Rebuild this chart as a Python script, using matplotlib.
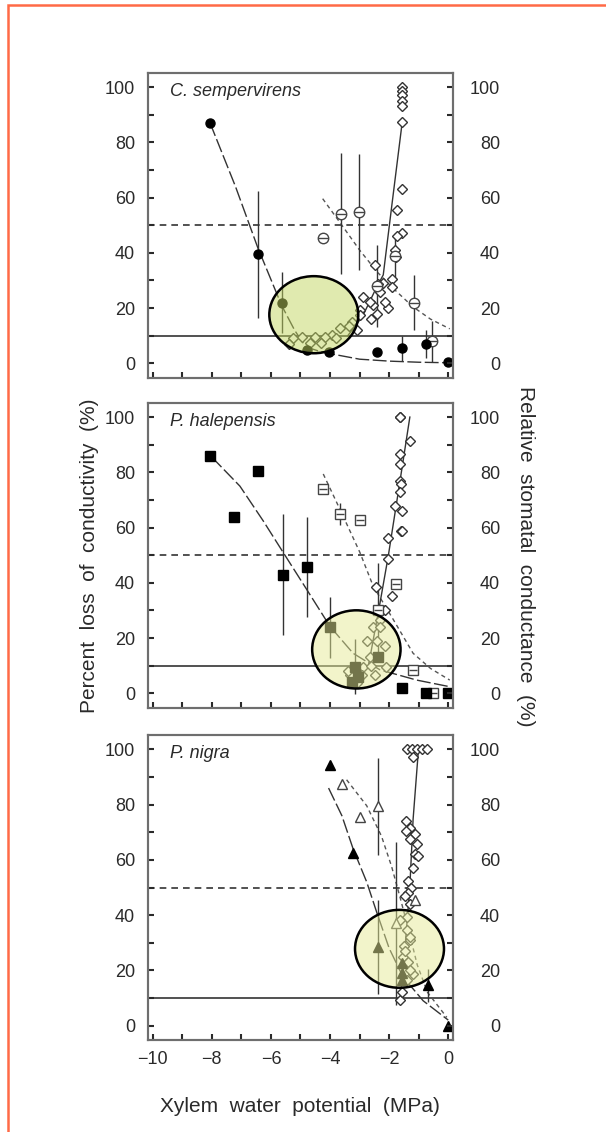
import matplotlib
matplotlib.use("Agg")
import matplotlib.pyplot as plt
from matplotlib.patches import Ellipse, Rectangle
from matplotlib.ticker import MultipleLocator, FixedLocator

plt.rcParams['font.family'] = ['Liberation Sans', 'DejaVu Sans']

# ---------------- data ----------------
panel_names = ["C. sempervirens", "P. halepensis", "P. nigra"]

# Panel 1 : C. sempervirens
c_plc_x = [-8.06, -6.45, -5.64, -4.79, -4.03, -2.40, -1.58, -0.77, 0.0]
c_plc_y = [87, 39.5, 21.9, 4.8, 4.2, 4.0, 5.4, 6.9, 0.4]
c_plc_err = [0, 23, 11, 0, 0, 0, 4.5, 5, 0]
c_gs_x = [-4.25, -3.62, -3.01, -2.42, -1.80, -1.17, -0.54]
c_gs_y = [45.4, 54.2, 54.8, 28.0, 39.0, 21.9, 8.0]
c_gs_err = [0, 22, 21, 15, 8, 10, 7.5]
c_dia_x = [-1.58, -1.58, -1.58, -1.58, -1.58, -1.56, -1.55, -1.75, -1.58, -1.75,
           -1.81, -1.78, -2.48, -1.92, -1.92, -2.20, -2.03, -2.14, -2.42, -2.55,
           -2.65, -2.88, -2.99, -2.99, -3.27, -3.35, -3.67, -3.95, -4.17, -4.51,
           -4.68, -4.96, -5.24, -5.40, -2.39, -2.30, -2.60, -3.10, -4.30, -3.80]
c_dia_y = [100, 98.5, 97, 95, 93, 87.3, 63, 55.4, 47, 46,
           41, 38.5, 35.5, 30.7, 27.7, 28.9, 19.9, 22.3, 18, 21,
           22.3, 24, 19.3, 17.5, 15, 13.5, 12.7, 10.2, 9.6, 9.6,
           7.2, 9.6, 9, 7, 28.7, 26, 16, 12, 7.5, 9]
c_plc_fit_x = [-8.06, -7.2, -6.45, -5.64, -5.2, -4.83, -4.4, -4.0, -3.0, -2.0, -1.0, 0.05]
c_plc_fit_y = [87, 64, 42, 21, 12, 6, 4.5, 3.5, 1.5, 0.8, 0.4, 0.2]
c_gs_fit_x = [-4.25, -3.6, -3.0, -2.4, -1.8, -1.2, -0.6, 0.05]
c_gs_fit_y = [59.6, 50, 41, 33, 26.5, 20.5, 16, 12.5]
c_dia_fit_x = [-3.4, -2.9, -2.45, -2.2, -1.9, -1.55]
c_dia_fit_y = [10, 17, 27, 32, 58, 88]

# Panel 2 : P. halepensis
h_plc_x = [-8.06, -7.24, -6.43, -5.60, -4.79, -4.00, -3.16, -3.05, -3.25, -2.37, -1.58, -0.76, 0.0]
h_plc_y = [86, 63.9, 80.6, 43, 45.7, 23.9, 9.7, 6, 4, 13.3, 1.8, 0.2, 0]
h_plc_err = [0, 0, 0, 22, 18, 11, 10, 0, 0, 0, 0, 0, 0]
h_gs_x = [-4.23, -3.67, -2.99, -2.39, -1.77, -1.19, -0.51]
h_gs_y = [73.9, 64.8, 62.8, 30.3, 39.7, 8.5, 0]
h_gs_err = [0, 4, 0, 17, 0, 0, 0]
h_dia_x = [-1.64, -1.62, -1.28, -1.64, -1.64, -1.62, -1.60, -1.64, -1.81, -1.58,
           -1.60, -1.58, -2.05, -2.03, -2.45, -1.92, -2.14, -2.31, -2.54, -2.31,
           -2.76, -2.42, -2.14, -2.65, -2.88, -2.93, -2.48, -3.33, -3.40, -3.10,
           -2.09, -2.60]
h_dia_y = [100, 100, 91.5, 86.7, 83, 77, 75.7, 73, 67.9, 66,
           58.8, 58.8, 56.4, 48.5, 38.5, 35.4, 30.3, 26.7, 24, 24,
           18.8, 18.8, 17.2, 13.3, 9.7, 6.7, 6.7, 6.7, 8, 3.6,
           9.7, 10]
h_plc_fit_x = [-8.0, -7.05, -6.26, -5.58, -4.79, -4.0, -3.22, -2.31, -1.07, 0.05]
h_plc_fit_y = [85.5, 75, 62.4, 50.9, 37.6, 24.2, 14.5, 8.5, 4.8, 2.4]
h_gs_fit_x = [-4.23, -3.67, -2.99, -2.54, -1.86, -1.19, -0.6, 0.05]
h_gs_fit_y = [79.4, 66.7, 51, 38.8, 26.7, 14.5, 9, 4.8]
h_dia_fit_x = [-2.7, -2.31, -2.03, -1.66, -1.3]
h_dia_fit_y = [10, 32.7, 49.7, 75, 100]

# Panel 3 : P. nigra
n_plc_x = [-4.0, -3.22, -2.37, -1.58, -1.58, -1.55, -0.68, 0.0]
n_plc_y = [94.4, 62.6, 28.5, 22.6, 16.4, 19, 14.6, 0]
n_plc_err = [0, 0, 17, 0, 0, 0, 6, 0]
n_gs_x = [-3.61, -2.99, -2.37, -1.78, -1.13]
n_gs_y = [87.5, 75.4, 79.4, 37.0, 45.6]
n_gs_err = [0, 0, 17.6, 29.5, 0]
n_dia_x = [-1.41, -1.24, -1.07, -0.90, -0.73, -1.20, -1.43, -1.30, -1.43, -1.13,
           -1.30, -1.07, -1.13, -1.02, -1.19, -1.36, -1.25, -1.36, -1.47, -1.30,
           -1.41, -1.64, -1.41, -1.30, -1.50, -1.30, -1.53, -1.36, -1.19, -1.41,
           -1.64, -1.55, -1.30, -1.45]
n_dia_y = [100, 100, 100, 100, 100, 97.3, 74.1, 71.7, 70.5, 69.2,
           67.4, 65.6, 62, 61.4, 57.1, 52.2, 50, 48, 46.8, 44,
           39.5, 38.3, 34.6, 31, 29, 32.2, 24.9, 23.1, 18.8, 16.4,
           9.1, 12, 20, 27]
n_plc_fit_x = [-4.05, -3.6, -3.22, -2.76, -2.42, -2.0, -1.53, -0.85, 0.0]
n_plc_fit_y = [86, 76, 64, 52, 41, 28, 17.6, 9, 2]
n_gs_fit_x = [-3.44, -2.76, -2.26, -1.92, -1.64, -1.35, -1.05, -0.7, -0.05]
n_gs_fit_y = [89, 79.6, 68.6, 57.7, 46.8, 35, 22, 12, 3]
n_dia_fit_x = [-1.6, -1.45, -1.3, -1.19, -1.02]
n_dia_fit_y = [12, 30, 50.4, 74.7, 98.4]

# highlight ellipses: centre x, centre y, width, height (data units)
ell_cx = [-4.55, -3.11, -1.65]
ell_cy = [17.6, 15.9, 27.8]
ell_w = [3.01, 2.99, 3.01]
ell_h = [27.9, 28.3, 28.2]

x_ticks = [-10, -8, -6, -4, -2, 0]
y_ticks = [0, 20, 40, 60, 80, 100]

# ---------------- figure ----------------
W, H = 606, 1132
fig = plt.figure(figsize=(W / 100, H / 100), dpi=100)

left = 148 / W
width = (452.7 - 148) / W
tops = [72.7, 402.7, 735.0]
ph = 305.0

panels = [
    dict(plc=(c_plc_x, c_plc_y, c_plc_err), gs=(c_gs_x, c_gs_y, c_gs_err),
         dia=(c_dia_x, c_dia_y), plcfit=(c_plc_fit_x, c_plc_fit_y),
         gsfit=(c_gs_fit_x, c_gs_fit_y), diafit=(c_dia_fit_x, c_dia_fit_y),
         plc_m='o', gs_m='o', ecol='#c2d660'),
    dict(plc=(h_plc_x, h_plc_y, h_plc_err), gs=(h_gs_x, h_gs_y, h_gs_err),
         dia=(h_dia_x, h_dia_y), plcfit=(h_plc_fit_x, h_plc_fit_y),
         gsfit=(h_gs_fit_x, h_gs_fit_y), diafit=(h_dia_fit_x, h_dia_fit_y),
         plc_m='s', gs_m='s', ecol='#e6eb96'),
    dict(plc=(n_plc_x, n_plc_y, n_plc_err), gs=(n_gs_x, n_gs_y, n_gs_err),
         dia=(n_dia_x, n_dia_y), plcfit=(n_plc_fit_x, n_plc_fit_y),
         gsfit=(n_gs_fit_x, n_gs_fit_y), diafit=(n_dia_fit_x, n_dia_fit_y),
         plc_m='^', gs_m='^', ecol='#e6eb96'),
]

ink = '#2a2a2a'
spine_c = '#6e6e6e'

for i, p in enumerate(panels):
    bottom = 1 - (tops[i] + ph) / H
    ax = fig.add_axes([left, bottom, width, ph / H])
    ax.set_xlim(-10.16, 0.15)
    ax.set_ylim(-5.2, 105.2)

    # reference lines
    ax.axhline(10, color='#333333', lw=1.2, zorder=1)
    ax.axhline(50, color='#333333', lw=1.2, ls=(0, (4, 3)), zorder=1)

    # fitted curves
    ax.plot(*p['plcfit'], color='#333333', lw=1.0, ls=(0, (10, 2.5)), zorder=2)
    ax.plot(*p['gsfit'], color='#555555', lw=1.0, ls=(0, (3, 2.5)), zorder=2)
    ax.plot(*p['diafit'], color='#333333', lw=1.0, zorder=2)

    # error bars
    gx, gy, ge = p['gs']
    ax.errorbar(gx, gy, yerr=ge, fmt='none', ecolor='#333333', elinewidth=1.0, capsize=0, zorder=3)
    lx, ly, le = p['plc']
    ax.errorbar(lx, ly, yerr=le, fmt='none', ecolor='#333333', elinewidth=1.0, capsize=0, zorder=3)

    # diamonds
    dx, dy = p['dia']
    ax.plot(dx, dy, ls='none', marker='D', ms=4.6, mfc='white', mec='#333333', mew=1.0, zorder=4)

    # open gs markers
    ms_open = 7.5 if p['gs_m'] == 'o' else 6.8
    ax.plot(gx, gy, ls='none', marker=p['gs_m'], ms=ms_open, mfc='white', mec='#444444', mew=1.0, zorder=5)
    if p['gs_m'] != '^':
        ax.plot(gx, gy, ls='none', marker='_', ms=ms_open - 1, mec='#444444', mew=1.0, zorder=6)

    # filled plc markers
    ax.plot(lx, ly, ls='none', marker=p['plc_m'], ms=6.5, color='black', zorder=6)

    # highlight ellipse
    ax.add_patch(Ellipse((ell_cx[i], ell_cy[i]), ell_w[i], ell_h[i],
                         facecolor=p['ecol'], edgecolor='none', alpha=0.5, zorder=8))
    ax.add_patch(Ellipse((ell_cx[i], ell_cy[i]), ell_w[i], ell_h[i],
                         facecolor='none', edgecolor='black', lw=1.8, zorder=9))

    # axes styling
    for s in ax.spines.values():
        s.set_color(spine_c)
        s.set_linewidth(1.5)
    ax.yaxis.set_major_locator(FixedLocator(y_ticks))
    ax.yaxis.set_minor_locator(MultipleLocator(10))
    ax.xaxis.set_major_locator(FixedLocator(x_ticks))
    ax.xaxis.set_minor_locator(MultipleLocator(1))
    ax.tick_params(axis='both', which='both', direction='in', length=4, width=1.5,
                   color=ink, labelsize=13, labelcolor=ink)
    ax.tick_params(axis='y', which='both', pad=9.4)
    ax.tick_params(axis='x', which='both', pad=8.0)
    if i < 2:
        ax.tick_params(axis='x', labelbottom=False)

    ax.text(0.072, 0.938, panel_names[i], transform=ax.transAxes, ha='left', va='center',
            fontsize=13, style='italic', color=ink, zorder=10)

    # right axis
    ax2 = ax.twinx()
    ax2.set_ylim(ax.get_ylim())
    ax2.yaxis.set_major_locator(FixedLocator(y_ticks))
    ax2.yaxis.set_minor_locator(MultipleLocator(10))
    ax2.tick_params(axis='y', which='both', direction='in', length=4, width=1.5,
                    color=ink, labelsize=13, labelcolor=ink, pad=34)
    for t in ax2.get_yticklabels():
        t.set_horizontalalignment('right')
    for s in ax2.spines.values():
        s.set_color(spine_c)
        s.set_linewidth(1.5)

# axis labels
fig.text(300.4 / W, 1 - 1106 / H, "Xylem  water  potential  (MPa)", ha='center', va='center',
         fontsize=15, color=ink)
fig.text(90 / W, 1 - 556 / H, "Percent  loss  of  conductivity  (%)", ha='center', va='center',
         rotation=90, fontsize=15, color=ink)
fig.text(526 / W, 1 - 556 / H, "Relative  stomatal  conductance  (%)", ha='center', va='center',
         rotation=-90, fontsize=15, color=ink)

# orange frame (top and left visible)
fig.add_artist(Rectangle((8 / W, -0.1), 1.2, 1 - 5 / H + 0.1, transform=fig.transFigure,
                         fill=False, edgecolor='#ff6a47', lw=1.8))

fig.savefig("out.png", dpi=100)
